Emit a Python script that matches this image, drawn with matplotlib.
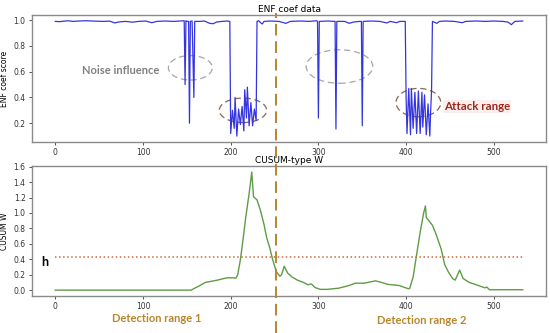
import numpy as np
import matplotlib.pyplot as plt
from matplotlib import patches
from matplotlib.lines import Line2D
from matplotlib import transforms

# ENF coefficient score (top panel), vertices
enf_x = [0, 5, 10, 15, 20, 27, 35, 45, 55, 62, 68, 72, 80, 88, 95, 103, 110, 116, 125, 135,
         142, 147, 148, 149, 150, 152, 153, 154, 156, 158, 159, 165, 170, 176, 180, 184, 190,
         196, 199, 200, 202, 204, 205, 207, 209, 211, 213, 215, 216, 218, 219, 221, 223, 225,
         227, 229, 230, 232, 234, 236, 238, 245, 255, 263, 268, 280, 290, 298, 299, 300, 301,
         310, 319, 320, 321, 330, 335, 340, 347, 349, 350, 351, 360, 370, 378, 382, 389, 393,
         399, 400, 401, 403, 405, 406, 408, 410, 412, 414, 416, 418, 419, 421, 423, 425, 427,
         428, 429, 430, 435, 438, 445, 455, 464, 468, 480, 490, 500, 510, 516, 520, 524, 533]
enf_y = [0.99, 0.988, 0.992, 0.995, 0.99, 0.993, 0.995, 0.992, 0.99, 0.992, 0.978, 0.985,
         0.99, 0.984, 0.99, 0.993, 0.98, 0.99, 0.993, 0.99, 0.993, 0.995, 0.5, 0.995, 0.99,
         0.99, 0.2, 0.99, 0.993, 0.4, 0.99, 0.99, 0.993, 0.975, 0.972, 0.985, 0.99, 0.993,
         0.99, 0.12, 0.30, 0.16, 0.40, 0.10, 0.31, 0.19, 0.33, 0.14, 0.46, 0.24, 0.48, 0.18,
         0.36, 0.18, 0.31, 0.22, 0.99, 0.995, 0.98, 0.97, 0.99, 0.993, 0.99, 0.975, 0.99,
         0.993, 0.99, 0.995, 0.99, 0.24, 0.99, 0.993, 0.99, 0.155, 0.99, 0.99, 0.975, 0.985,
         0.99, 0.99, 0.18, 0.99, 0.993, 0.99, 0.978, 0.99, 0.98, 0.99, 0.99, 0.39, 0.12, 0.47,
         0.11, 0.47, 0.16, 0.44, 0.12, 0.45, 0.12, 0.44, 0.17, 0.42, 0.11, 0.35, 0.10, 0.30,
         0.45, 0.99, 0.975, 0.99, 0.993, 0.99, 0.98, 0.99, 0.993, 0.99, 0.993, 0.99, 0.985,
         0.965, 0.99, 0.993]

# CUSUM-type W (bottom panel)
cusum_x = [0, 155, 158, 165, 171, 178, 185, 192, 197, 202, 206, 208, 211, 214, 217, 221, 224,
           226, 230, 234, 238, 241, 244, 248, 252, 256, 258, 261, 265, 270, 276, 283, 288, 292,
           296, 302, 310, 323, 335, 342, 352, 365, 372, 379, 392, 402, 404, 408, 411, 416, 420,
           422, 423, 426, 430, 434, 440, 444, 448, 453, 456, 461, 465, 472, 480, 486, 490, 492,
           495, 533]
cusum_y = [0.0, 0.0, 0.02, 0.06, 0.10, 0.115, 0.13, 0.15, 0.16, 0.16, 0.155, 0.2, 0.39, 0.65,
           0.93, 1.25, 1.53, 1.21, 1.17, 1.03, 0.85, 0.68, 0.57, 0.39, 0.24, 0.18, 0.2, 0.31,
           0.22, 0.17, 0.13, 0.10, 0.07, 0.08, 0.035, 0.01, 0.01, 0.025, 0.06, 0.09, 0.09,
           0.12, 0.10, 0.075, 0.06, 0.02, 0.02, 0.17, 0.39, 0.75, 1.0, 1.09, 0.94, 0.9, 0.84,
           0.73, 0.53, 0.33, 0.24, 0.15, 0.13, 0.26, 0.15, 0.10, 0.07, 0.045, 0.03, 0.04,
           0.005, 0.005]

h_value = 0.43
split_x = 252

# ellipses: (x center, y center, width, height)
noise_ellipses = [(154, 0.63, 50, 0.19), (324, 0.64, 76, 0.26)]
attack_ellipses = [(214, 0.30, 54, 0.19), (414, 0.36, 51, 0.22)]

gold = '#b8862b'
spine_col = '#8a8a8a'

fig = plt.figure(figsize=(5.5, 3.33), dpi=100)
ax1 = fig.add_axes([0.058, 0.574, 0.935, 0.381])
ax2 = fig.add_axes([0.058, 0.111, 0.935, 0.39])

for ax in (ax1, ax2):
    for s in ax.spines.values():
        s.set_color(spine_col)
        s.set_linewidth(1.0)
    ax.tick_params(labelsize=5.5, length=2.5, width=0.6, colors='#333333', pad=2)

# top panel
ax1.plot(enf_x, enf_y, color='#3535e0', lw=0.9)
ax1.set_title('ENF coef data', fontsize=6.5, pad=2)
ax1.set_ylabel('ENF coef score', fontsize=5.5)
ax1.yaxis.set_label_coords(-0.045, 0.5)
ax1.set_xticks([0, 100, 200, 300, 400, 500])
ax1.set_yticks([0.2, 0.4, 0.6, 0.8, 1.0])

for (cx, cy, w, h) in noise_ellipses:
    ax1.add_patch(patches.Ellipse((cx, cy), w, h, fill=False, ec='#a6a6a6',
                                  ls=(0, (5, 3)), lw=0.9))
for (cx, cy, w, h) in attack_ellipses:
    ax1.add_patch(patches.Ellipse((cx, cy), w, h, fill=False, ec='#8c6450',
                                  ls=(0, (5, 3)), lw=0.9))

ax1.text(0.173, 0.56, 'Noise influence', transform=ax1.transAxes, fontsize=8,
         fontweight='bold', color='#808080', family='Lato', ha='center', va='center')
ax1.text(0.866, 0.28, 'Attack range', transform=ax1.transAxes, fontsize=8.3,
         fontweight='bold', color='#9b2a1e', family='Lato', ha='center', va='center',
         bbox=dict(fc='#fdeeee', ec='none', pad=0.5))

# bottom panel
ax2.plot(cusum_x, cusum_y, color='#5e9c45', lw=1.0)
ax2.plot([cusum_x[0], cusum_x[-1]], [h_value, h_value], color='#cc6a3a', lw=1.1, ls=':')
ax2.set_title('CUSUM-type W', fontsize=6.5, pad=2)
ax2.set_ylabel('CUSUM W', fontsize=5.5)
ax2.yaxis.set_label_coords(-0.045, 0.5)
ax2.set_xticks([0, 100, 200, 300, 400, 500])
ax2.set_yticks(np.arange(0, 1.61, 0.2))
ax2.text(0.025, 0.26, 'h', transform=ax2.transAxes, fontsize=9, fontweight='bold',
         color='black', family='Lato', ha='center', va='center')

fig.text(0.285, 0.045, 'Detection range 1', fontsize=8, fontweight='bold', color=gold,
         family='Lato', ha='center', va='center')
fig.text(0.767, 0.037, 'Detection range 2', fontsize=8, fontweight='bold', color=gold,
         family='Lato', ha='center', va='center')

# dashed split line across both panels
tr = transforms.blended_transform_factory(ax1.transData, fig.transFigure)
fig.lines.append(Line2D([split_x, split_x], [0.0, 0.962], transform=tr, color=gold,
                        lw=1.4, ls=(0, (6, 3))))

fig.savefig('out.png', dpi=100)
